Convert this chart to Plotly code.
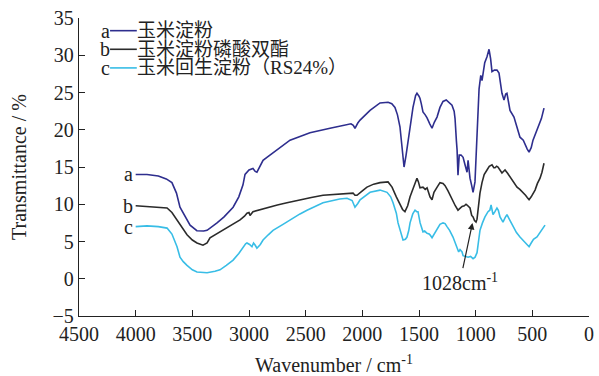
import plotly.graph_objects as go

# ---------------- data ----------------
a_x = [4000, 3900, 3800, 3730, 3680, 3640, 3609, 3560, 3520, 3460, 3400, 3370, 3330, 3282, 3220, 3140,
       3090, 3053, 3035, 3000, 2965, 2945, 2930, 2900, 2876, 2842, 2788, 2700, 2638, 2550, 2462, 2285,
       2150, 2100, 2080, 2065, 2040, 2020, 1932, 1844, 1773, 1740, 1712, 1690, 1668, 1650, 1632, 1615,
       1597, 1575, 1553, 1530, 1518, 1500, 1491, 1480, 1465, 1445, 1429, 1405, 1385, 1365, 1341, 1315,
       1288, 1260, 1235, 1209, 1190, 1182, 1170, 1164, 1156, 1145, 1129, 1111, 1094, 1076, 1067, 1050,
       1035, 1023, 1006, 988, 979, 970, 955, 944, 935, 920, 900, 882, 868, 856, 835, 812, 794, 768, 750,
       735, 724, 697, 662, 635, 609, 580, 565, 545, 529, 510, 494, 470, 450, 420, 397]
a_y = [14.0, 14.0, 13.8, 13.4, 12.9, 11.5, 9.6, 8.2, 7.2, 6.45, 6.4, 6.5, 6.9, 7.5, 8.3, 9.6,
       11.0, 12.6, 14.0, 14.6, 14.8, 14.4, 14.3, 15.2, 15.9, 16.3, 16.9, 17.8, 18.6, 19.1, 19.6, 20.2,
       20.7, 20.8, 20.6, 20.2, 20.9, 21.3, 22.6, 23.6, 23.7, 23.5, 23.0, 22.0, 20.4, 17.5, 15.0, 16.5,
       18.6, 21.0, 23.0, 24.6, 24.9, 24.5, 24.2, 23.5, 22.4, 22.0, 21.6, 20.8, 20.2, 21.0, 21.7, 23.0,
       23.8, 24.0, 23.7, 23.3, 22.5, 21.5, 18.5, 17.3, 13.9, 16.6, 16.6, 16.3, 15.3, 14.3, 15.9, 13.5,
       12.5, 11.6, 13.0, 19.6, 21.3, 25.5, 27.3, 26.6, 27.5, 29.0, 29.8, 30.8, 29.5, 27.8, 28.0, 28.0,
       27.6, 24.9, 24.0, 24.8, 24.9, 22.6, 21.7, 20.3, 19.0, 18.6, 18.0, 17.4, 17.0, 17.6, 18.6, 19.6,
       20.2, 21.5, 22.9]

b_x = [4000, 3900, 3800, 3723, 3680, 3635, 3590, 3547, 3500, 3459, 3406, 3370, 3344, 3290, 3229, 3150,
       3079, 3040, 3018, 3000, 2991, 2965, 2900, 2842, 2750, 2665, 2550, 2450, 2347, 2200, 2082, 2065,
       2047, 2000, 1959, 1900, 1844, 1773, 1738, 1700, 1668, 1645, 1624, 1600, 1579, 1545, 1518, 1505,
       1491, 1465, 1445, 1429, 1415, 1403, 1385, 1368, 1340, 1315, 1288, 1270, 1244, 1220, 1200, 1180,
       1156, 1138, 1120, 1100, 1085, 1076, 1060, 1050, 1035, 1023, 1010, 997, 988, 979, 962, 944, 925,
       900, 880, 856, 840, 829, 815, 803, 785, 768, 755, 741, 720, 697, 670, 635, 610, 582, 560, 545,
       529, 510, 490, 476, 455, 432, 415, 397]
b_y = [9.8, 9.7, 9.6, 9.5, 8.9, 7.9, 6.8, 5.9, 5.2, 4.8, 4.5, 4.8, 5.5, 6.0, 6.5, 7.3,
       7.9, 8.4, 8.8, 8.9, 8.5, 9.0, 9.3, 9.5, 9.9, 10.2, 10.6, 10.9, 11.2, 11.4, 11.5, 11.2,
       11.2, 11.8, 12.3, 12.7, 12.9, 13.0, 12.3, 11.0, 9.9, 9.3, 9.0, 9.8, 11.0, 12.5, 13.5, 13.0,
       12.2, 12.3, 12.0, 12.2, 11.5, 11.0, 10.6, 11.6, 12.3, 12.9, 12.8, 12.5, 11.8, 11.0, 10.3, 9.8,
       9.2, 9.5, 9.7, 9.8, 10.0, 9.9, 9.7, 9.5, 8.5, 8.3, 7.8, 7.6, 8.0, 9.5, 11.5, 12.9, 14.0,
       14.6, 15.1, 15.3, 14.9, 14.9, 15.1, 15.0, 14.5, 14.2, 14.4, 14.6, 14.2, 13.7, 13.0, 12.3, 12.0,
       11.6, 11.2, 10.9, 10.6, 11.0, 11.6, 11.9, 12.8, 13.5, 14.3, 15.5]

c_x = [4000, 3900, 3800, 3723, 3680, 3635, 3609, 3580, 3547, 3500, 3459, 3400, 3370, 3300, 3256, 3200,
       3140, 3090, 3053, 3030, 3018, 2995, 2974, 2960, 2945, 2930, 2900, 2876, 2830, 2788, 2700, 2638,
       2550, 2488, 2347, 2200, 2135, 2090, 2065, 2040, 2020, 1932, 1844, 1782, 1750, 1729, 1700, 1685,
       1660, 1641, 1620, 1606, 1590, 1579, 1555, 1535, 1520, 1509, 1490, 1473, 1465, 1450, 1429, 1410,
       1403, 1385, 1365, 1341, 1315, 1288, 1270, 1253, 1230, 1200, 1170, 1150, 1138, 1120, 1111, 1090,
       1067, 1045, 1023, 1005, 988, 975, 962, 940, 918, 891, 875, 864, 847, 830, 812, 800, 785, 770,
       759, 740, 724, 700, 671, 640, 609, 570, 545, 529, 510, 490, 459, 430, 388]
c_y = [7.0, 7.1, 7.0, 6.8, 6.0, 4.3, 2.9, 2.3, 1.8, 1.2, 0.9, 0.8, 0.8, 1.0, 1.2, 1.8,
       2.5, 3.4, 4.3, 4.7, 4.8, 4.6, 4.3, 4.8, 4.5, 4.1, 4.6, 5.2, 5.9, 6.5, 7.3, 7.9,
       8.7, 9.2, 10.2, 10.7, 10.8, 10.5, 9.6, 10.1, 10.6, 11.6, 11.9, 11.6, 11.0, 10.2, 8.8, 7.5,
       6.0, 5.2, 5.3, 5.6, 6.5, 7.5, 8.7, 9.2, 9.0, 9.0, 7.5, 6.5, 6.3, 6.4, 6.1, 6.0,
       5.9, 5.5, 6.0, 6.5, 7.3, 7.5, 7.4, 7.0, 6.5, 5.6, 4.5, 3.6, 3.9, 3.6, 3.1, 3.0,
       2.9, 3.0, 2.7, 2.9, 3.5, 5.0, 6.5, 7.5, 8.3, 9.0, 9.2, 9.9, 8.6, 9.0, 9.5, 9.2, 8.3, 7.9,
       7.6, 8.2, 8.6, 7.9, 7.0, 6.2, 5.6, 4.9, 4.5, 4.3, 4.8, 5.3, 5.6, 6.3, 7.2]

series_letters = ["a", "b", "c"]
series_names = ["玉米淀粉", "玉米淀粉磷酸双酯", "玉米回生淀粉（RS24%）"]
series_colors = ["#2e2e8e", "#2b2b2b", "#38bde6"]

x_ticks = [4500, 4000, 3500, 3000, 2500, 2000, 1500, 1000, 500, 0]
y_ticks = [-5, 0, 5, 10, 15, 20, 25, 30, 35]

peak_label = "1028cm<sup>-1</sup>"
peak_x, peak_y = 1028, 7.5

# ---------------- figure ----------------
SERIF = "'Liberation Serif', 'Times New Roman', 'Noto Sans CJK SC', serif"
TXT = "#222"
fig = go.Figure()
xs = [a_x, b_x, c_x]
ys = [a_y, b_y, c_y]
for xv, yv, col, nm in zip(xs, ys, series_colors, series_names):
    fig.add_trace(go.Scatter(x=xv, y=yv, mode="lines", name=nm,
                             line=dict(color=col, width=1.6), showlegend=False))

# curve letters at the left end of each curve
for xv, yv, let in zip(xs, ys, series_letters):
    fig.add_annotation(x=xv[0], y=yv[0], text=let, showarrow=False,
                       xanchor="right", yanchor="middle", xshift=-1,
                       font=dict(family=SERIF, size=20, color=TXT))

# custom legend (letter — line — name)
leg_y = [33.3, 30.8, 28.3]
for ly, let, nm, col in zip(leg_y, series_letters, series_names, series_colors):
    fig.add_annotation(x=4226, y=ly, text=let, showarrow=False, xanchor="right",
                       yanchor="middle", xshift=2, font=dict(family=SERIF, size=20, color=TXT))
    fig.add_shape(type="line", x0=4226, x1=3990, y0=ly, y1=ly, xref="x", yref="y",
                  line=dict(color=col, width=1.6))
    fig.add_annotation(x=3985, y=ly, text=nm, showarrow=False, xanchor="left",
                       yanchor="middle", xshift=-2,
                       font=dict(family=SERIF, size=19, color=TXT))

# arrow annotation
fig.add_annotation(x=peak_x, y=peak_y, text=peak_label, showarrow=True,
                   axref="x", ayref="y", ax=1138, ay=-0.4,
                   arrowhead=2, arrowsize=1.1, arrowwidth=1.2, arrowcolor=TXT,
                   font=dict(family=SERIF, size=20, color=TXT))

fig.update_layout(
    width=599, height=376,
    margin=dict(l=79, r=10, t=18, b=60),
    paper_bgcolor="white", plot_bgcolor="white",
    font=dict(family=SERIF, size=20, color=TXT),
    showlegend=False,
)
fig.update_xaxes(range=[4500, 0], tickvals=x_ticks, ticktext=[str(v) for v in x_ticks],
                 automargin=False, ticklabeloverflow="allow",
                 showline=True, linecolor=TXT, linewidth=1.3, ticks="inside", ticklen=6,
                 tickwidth=1.2, tickcolor=TXT, showgrid=False, zeroline=False,
                 tickfont=dict(family=SERIF, size=20, color=TXT),
                 title=dict(text="Wavenumber / cm<sup>-1</sup>", standoff=18,
                            font=dict(family=SERIF, size=20, color=TXT)))
fig.update_yaxes(range=[-5, 35], tickvals=y_ticks, automargin=False, ticklabeloverflow="allow",
                 showline=True, linecolor=TXT, linewidth=1.3, ticks="inside", ticklen=6,
                 tickwidth=1.2, tickcolor=TXT, showgrid=False, zeroline=False,
                 tickfont=dict(family=SERIF, size=20, color=TXT),
                 title=dict(text="Transmittance / %", standoff=20,
                            font=dict(family=SERIF, size=20, color=TXT)))

# remove the default 8px page margin so the 599x376 figure fills the window exactly
fig.write_html("out.html", config={"displayModeBar": False},
               post_script="document.body.style.margin='0px';")
